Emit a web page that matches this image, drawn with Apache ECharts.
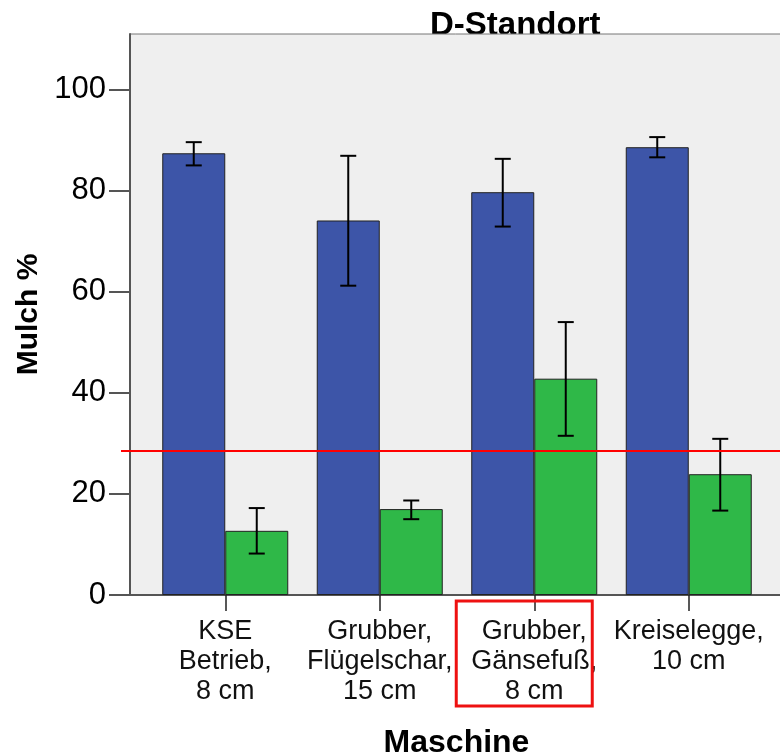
<!DOCTYPE html>
<html>
<head>
<meta charset="utf-8">
<script src="https://cdn.jsdelivr.net/npm/echarts@6/dist/echarts.min.js"></script>
<style>
  html, body { margin: 0; padding: 0; background: #fff; }
  #chart { width: 780px; height: 754px; }
</style>
</head>
<body>
<div id="chart"></div>
<script>
const categories = ['KSE\nBetrieb,\n8 cm', 'Grubber,\nFlügelschar,\n15 cm', 'Grubber,\nGänsefuß,\n8 cm', 'Kreiselegge,\n10 cm'];
const blueMeans = [87.4, 74.1, 79.7, 88.6];
const blueLow = [85.0, 61.2, 72.9, 86.6];
const blueHigh = [89.6, 86.9, 86.3, 90.6];
const greenMeans = [12.7, 17.0, 42.8, 23.9];
const greenLow = [8.2, 15.0, 31.5, 16.7];
const greenHigh = [17.2, 18.7, 54.0, 30.9];
const refLine = 28.5;
const yTicks = [0, 20, 40, 60, 80, 100];

const FONT = '"Liberation Sans", Arial, sans-serif';
const BAR_W = 63;

const chart = echarts.init(document.getElementById('chart'));

function errorBars(low, high, offset) {
    return low.map((l, i) => [i, l, high[i], offset]);
}

function renderError(params, api) {
    const i = api.value(0);
    const off = api.value(3);
    const lo = api.coord([i, api.value(1)]);
    const hi = api.coord([i, api.value(2)]);
    const x = lo[0] + off;
    const cap = 8;
    const style = {stroke: '#000', lineWidth: 2};
    return {
        type: 'group',
        children: [
            {type: 'line', shape: {x1: x, y1: hi[1], x2: x, y2: lo[1]}, style},
            {type: 'line', shape: {x1: x - cap, y1: hi[1], x2: x + cap, y2: hi[1]}, style},
            {type: 'line', shape: {x1: x - cap, y1: lo[1], x2: x + cap, y2: lo[1]}, style}
        ]
    };
}

const option = {
    animation: false,
    title: {
        text: 'D-Standort',
        left: 425,
        top: 4,
        z: -1,
        textStyle: {fontFamily: FONT, fontSize: 33, fontWeight: 'bold', color: '#000'}
    },
    grid: [
        {left: 130, width: 653, top: 34, height: 561, show: true, outerBoundsMode: 'none', containLabel: false,
         backgroundColor: '#efefef', borderColor: '#777', borderWidth: 1},
        {left: 148, width: 618, top: 34, height: 561, outerBoundsMode: 'none', containLabel: false}
    ],
    xAxis: [
        {
            type: 'value', gridIndex: 0, min: 0, max: 1,
            name: 'Maschine', nameLocation: 'middle', nameGap: 132,
            nameTextStyle: {fontFamily: FONT, fontSize: 32, fontWeight: 'bold', color: '#000'},
            axisLine: {show: true, lineStyle: {color: '#555', width: 2}},
            axisTick: {show: false}, axisLabel: {show: false}, splitLine: {show: false}
        },
        {
            type: 'category', gridIndex: 1, data: categories,
            axisLine: {show: false},
            axisTick: {show: true, alignWithLabel: true, length: 16, lineStyle: {color: '#222', width: 1.5}},
            axisLabel: {fontFamily: FONT, fontSize: 27, lineHeight: 30, color: '#111', margin: 22, interval: 0}
        }
    ],
    yAxis: [
        {
            type: 'value', gridIndex: 0, min: 0, max: 111,
            name: 'Mulch %', nameLocation: 'middle', nameGap: 86, nameRotate: 90,
            nameTextStyle: {fontFamily: FONT, fontSize: 30, fontWeight: 'bold', color: '#000'},
            axisLine: {show: true, lineStyle: {color: '#555', width: 2}},
            axisTick: {show: true, length: 21, customValues: yTicks, lineStyle: {color: '#555', width: 2}},
            axisLabel: {customValues: yTicks, fontFamily: FONT, fontSize: 31, color: '#000', margin: 24},
            splitLine: {show: false}
        },
        {
            type: 'value', gridIndex: 1, min: 0, max: 111, show: false, splitLine: {show: false}
        }
    ],
    series: [
        {
            type: 'bar', xAxisIndex: 1, yAxisIndex: 1, data: blueMeans,
            barWidth: BAR_W, barGap: '0%',
            itemStyle: {color: '#3d55a8', borderColor: '#222', borderWidth: 1}
        },
        {
            type: 'bar', xAxisIndex: 1, yAxisIndex: 1, data: greenMeans,
            barWidth: BAR_W, barGap: '0%',
            itemStyle: {color: '#2fb848', borderColor: '#222', borderWidth: 1}
        },
        {
            type: 'custom', xAxisIndex: 1, yAxisIndex: 1, z: 5,
            data: errorBars(blueLow, blueHigh, -BAR_W / 2),
            renderItem: renderError
        },
        {
            type: 'custom', xAxisIndex: 1, yAxisIndex: 1, z: 5,
            data: errorBars(greenLow, greenHigh, BAR_W / 2),
            renderItem: renderError
        }
    ]
};

chart.setOption(option);

// reference line across the plot and the red highlight box round the third label
const yRef = chart.convertToPixel({yAxisIndex: 0}, refLine);
const c3 = chart.convertToPixel({xAxisIndex: 1}, 2);
chart.setOption({
    graphic: [
        {type: 'line', z: 10, shape: {x1: 121, y1: yRef, x2: 780, y2: yRef},
         style: {stroke: '#ff0000', lineWidth: 2}},
        {type: 'rect', z: 10, shape: {x: c3 - 78, y: 601, width: 136, height: 105},
         style: {fill: 'none', stroke: '#ee1111', lineWidth: 3}}
    ]
});
</script>
</body>
</html>
